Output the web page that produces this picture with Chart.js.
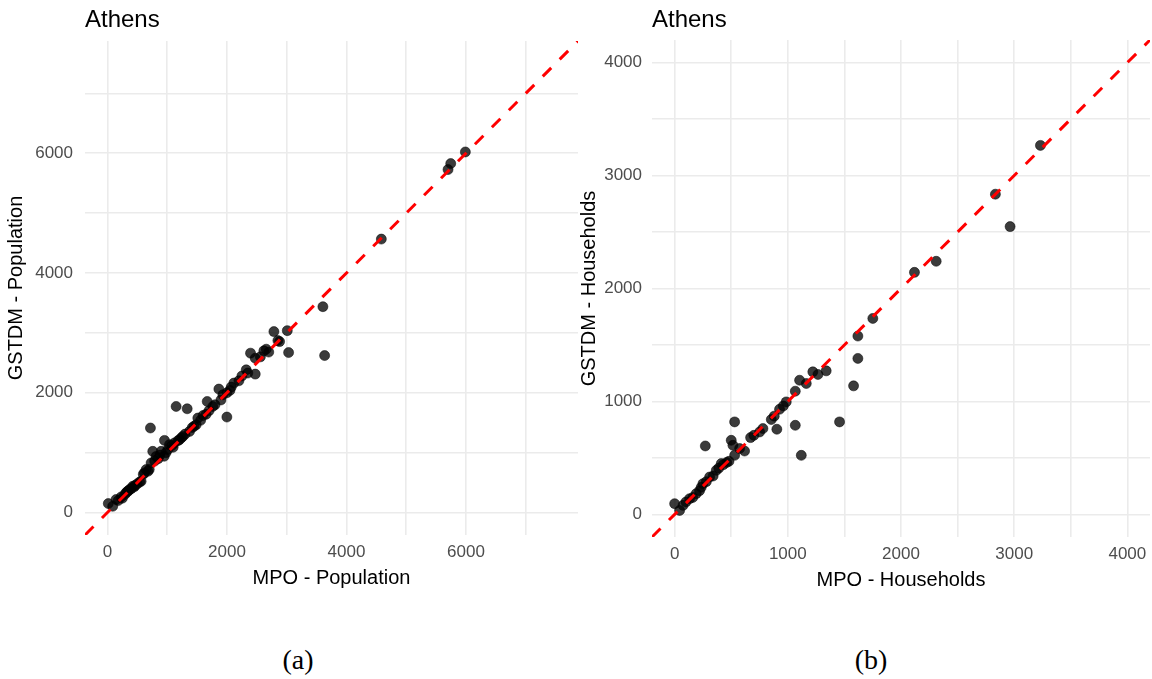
<!DOCTYPE html>
<html><head><meta charset="utf-8">
<script src="https://cdn.jsdelivr.net/npm/chart.js@4.4.1/dist/chart.umd.min.js"></script>
<style>
html,body{margin:0;padding:0;background:#fff;width:1152px;height:679px;overflow:hidden}
.box{position:absolute;top:0}
.cap{position:absolute;font-family:"Liberation Serif","Times New Roman",serif;font-size:28px;color:#000;transform:translate(-50%,-50%);top:660px;white-space:nowrap}
</style></head><body>
<div class="box" style="left:0px;width:580px;height:600px"><canvas id="c1" width="580" height="600"></canvas></div>
<div class="box" style="left:576px;width:576px;height:600px"><canvas id="c2" width="576" height="600"></canvas></div>
<div class="cap" style="left:298px">(a)</div>
<div class="cap" style="left:871px">(b)</div>
<script>
const chartTitle = 'Athens';

// Panel (a): Population
const popMPO = [15,89,145,180,230,250,290,313,330,350,369,400,424,450,460,500,540,564,600,620,648,680,700,720,731,759,790,815,850,880,899,950,955,980,1010,1038,1080,1100,1120,1150,1180,1206,1240,1262,1300,1335,1374,1420,1450,1485,1513,1560,1600,1650,1670,1700,1764,1800,1865,1900,1932,1999,2000,2050,2072,2116,2200,2250,2323,2350,2395,2474,2474,2560,2618,2658,2700,2786,2853,2881,3010,3032,3606,3635,4584,5700,5745,5990];
const popGSTDM = [150,105,217,200,260,240,300,330,350,360,383,400,438,430,450,480,510,522,640,662,717,690,720,1412,828,1022,860,938,900,960,1022,940,1205,1000,1050,1133,1120,1090,1160,1772,1200,1217,1250,1272,1310,1733,1355,1420,1440,1467,1578,1540,1620,1640,1855,1700,1772,1800,2062,1880,1967,1595,2000,2040,2095,2162,2200,2280,2383,2330,2662,2578,2312,2600,2700,2728,2680,3022,2872,2855,3038,2672,3438,2622,4567,5728,5828,6022];
const popLimits = [-375, 7875];
const popGrid = [0,1000,2000,3000,4000,5000,6000,7000];
const popTickLabels = [0,2000,4000,6000];

// Panel (b): Households
const hhMPO = [0,44,74,100,132,160,191,220,235,250,280,309,340,368,390,412,430,460,480,271,500,515,530,530,574,618,671,700,751,780,854,880,903,927,960,986,1066,1066,1104,1119,1163,1221,1266,1339,1457,1581,1619,1619,1751,2119,2311,2834,2964,3232];
const hhGSTDM = [95,35,80,110,139,150,184,210,240,272,290,331,340,390,410,450,440,460,470,606,656,612,523,819,583,561,680,700,730,760,840,870,754,931,960,996,1091,789,1188,523,1159,1262,1239,1271,819,1138,1381,1579,1735,2143,2241,2835,2548,3267];
const hhLimits = [-200, 4200];
const hhGrid = [0,500,1000,1500,2000,2500,3000,3500,4000];
const hhTickLabels = [0,1000,2000,3000,4000];

const FONT = '"Liberation Sans", Arial, sans-serif';

function makeChart(id, xs, ys, limits, grid, labels, xTitle, yTitle, L) {
  const pts = xs.map((x, i) => ({x: x, y: ys[i]}));
  const ref = limits.map(v => ({x: v, y: v}));
  const axisCommon = (isX) => ({
    type: 'linear',
    min: limits[0], max: limits[1],
    afterBuildTicks: s => { s.ticks = grid.map(v => ({value: v})); },
    afterFit: s => {
      if (isX) s.height = 55; else s.width = L.yWidth;
      s.paddingLeft = 0; s.paddingRight = 0; s.paddingTop = 0; s.paddingBottom = 0;
    },
    ticks: {
      autoSkip: false, maxRotation: 0, minRotation: 0,
      padding: isX ? 7 : L.yTickPad,
      color: '#4d4d4d',
      font: {family: FONT, size: 17},
      callback: v => labels.includes(v) ? String(v) : ''
    },
    grid: {color: '#ebebeb', lineWidth: 1.6, drawTicks: false},
    border: {display: false},
    title: {
      display: true, text: isX ? xTitle : yTitle, color: '#000',
      font: {family: FONT, size: 20},
      padding: isX ? {top: 0, bottom: 0} : {top: L.yTitlePad, bottom: 0}
    }
  });
  return new Chart(document.getElementById(id), {
    type: 'scatter',
    data: {
      datasets: [
        {type: 'line', data: ref, borderColor: '#ff0000', borderWidth: 3, borderDash: [12, 12],
         pointRadius: 0, fill: false, tension: 0},
        {data: pts, backgroundColor: 'rgba(0,0,0,0.77)', borderColor: 'rgba(0,0,0,0.85)', borderWidth: 0.6,
         pointRadius: 5}
      ]
    },
    options: {
      responsive: false, animation: false, events: [],
      layout: {autoPadding: false, padding: {left: 0, right: L.right, top: 0, bottom: L.bottom}},
      plugins: {
        legend: {display: false}, tooltip: {enabled: false},
        title: {display: true, text: chartTitle, align: 'start', fullSize: false, color: '#000',
          font: {family: FONT, size: 24, weight: 'normal', lineHeight: 1.2},
          padding: {top: 6, bottom: L.titleBottom}}
      },
      scales: {x: axisCommon(true), y: axisCommon(false)}
    }
  });
}

makeChart('c1', popMPO, popGSTDM, popLimits, popGrid, popTickLabels,
  'MPO - Population', 'GSTDM - Population',
  {yWidth: 85, yTickPad: 12, yTitlePad: 4, right: 2, bottom: 10, titleBottom: 6.2});
makeChart('c2', hhMPO, hhGSTDM, hhLimits, hhGrid, hhTickLabels,
  'MPO - Households', 'GSTDM - Households',
  {yWidth: 76, yTickPad: 10, yTitlePad: 1, right: 2, bottom: 8, titleBottom: 5.2});
</script>
</body></html>
